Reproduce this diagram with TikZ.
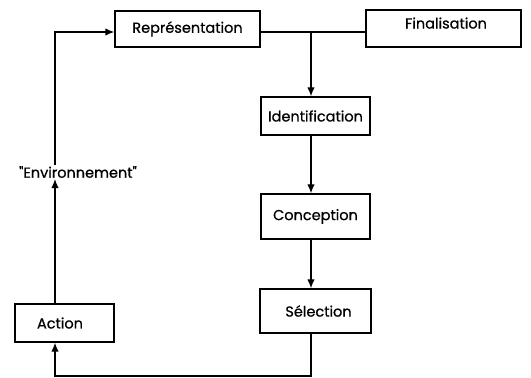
\documentclass[tikz,border=0pt]{standalone}
\usepackage{fontspec}
\newfontfamily\lbfont{Poppins}[FakeBold=0.7]
\usetikzlibrary{arrows.meta}
\begin{document}
\begin{tikzpicture}[x=1pt,y=-1pt,
  box/.style={draw, line width=1.4pt, inner sep=0pt, font=\lbfont\fontsize{14.5}{16}\selectfont},
  conn/.style={line width=1.3pt},
  arr/.style={conn, -{Latex[length=9pt,width=7.5pt]}},
  lbl/.style={inner sep=1pt, font=\lbfont\fontsize{14.5}{16}\selectfont}]
\useasboundingbox (0,0) rectangle (531,378);
\node[box, minimum width=145, minimum height=36] (rep) at (187.5,29) {Représentation};
\node[box, minimum width=155, minimum height=37, text depth=11pt] (fin) at (443.5,28.5) {\hspace*{5pt}Finalisation};
\node[box, minimum width=109, minimum height=38] (ide) at (315.5,116) {Identification};
\node[box, minimum width=109, minimum height=45] (con) at (315.5,216.5) {Conception};
\node[box, minimum width=111, minimum height=44] (sel) at (315.5,311) {\hspace*{6pt}Sélection};
\node[box, minimum width=99, minimum height=38] (act) at (64.5,323) {Action\hspace*{9pt}};
\node[lbl] (env) at (78,172) {"Environnement"};
\coordinate (j) at (311,32);
\coordinate (bl) at (55,376);
\coordinate (br) at (311,376);
\coordinate (tl) at (55,32);
\draw[conn] (rep.east |- j) -- (fin.west |- j);
\draw[arr] (j) -- (j |- ide.north);
\draw[arr] (ide.south -| j) -- (con.north -| j);
\draw[arr] (con.south -| j) -- (sel.north -| j);
\draw[arr] (sel.south -| br) -- (br) -- (bl) -- (act.south -| bl);
\draw[arr] (act.north -| bl) -- (env.south -| bl);
\draw[arr] (env.north -| tl) -- (tl) -- (rep.west |- tl);
\end{tikzpicture}
\end{document}
